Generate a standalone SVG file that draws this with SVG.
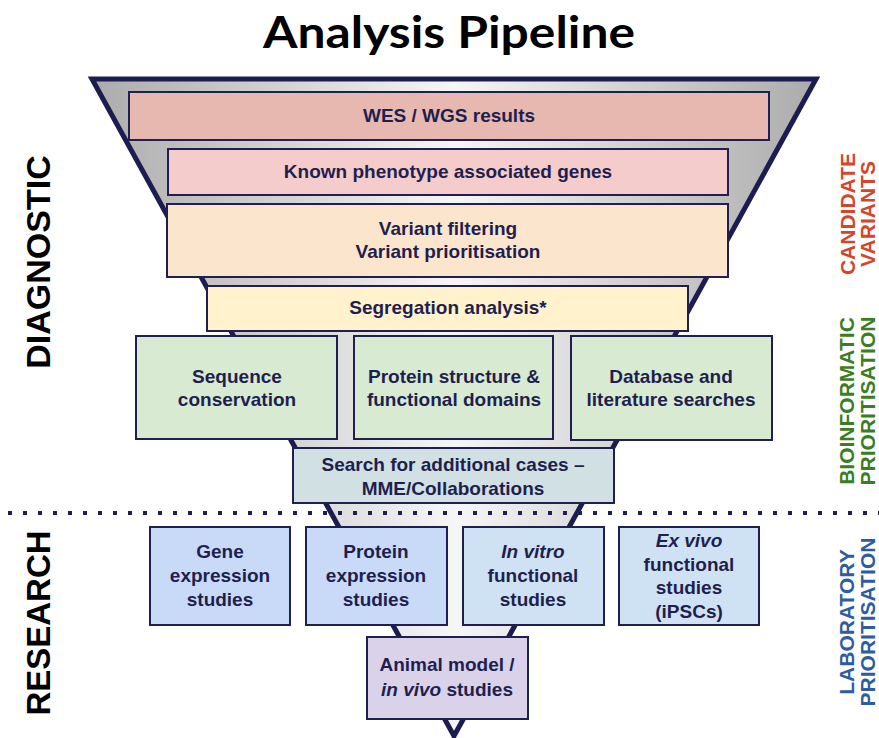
<svg xmlns="http://www.w3.org/2000/svg" width="879" height="738" viewBox="0 0 879 738">
<style>
.t{font-family:"Liberation Sans",Arial,sans-serif;font-weight:bold;font-size:19px;fill:#1F1F4F;text-anchor:middle}
.b{stroke:#1F1F50;stroke-width:2}
.side{font-family:"Liberation Sans",Arial,sans-serif;font-weight:bold;text-anchor:middle}
.i{font-style:italic}
</style>
<defs>
<linearGradient id="fg" x1="90" y1="0" x2="818" y2="0" gradientUnits="userSpaceOnUse">
<stop offset="0" stop-color="#ABABAB"/>
<stop offset="0.5" stop-color="#F6F6F6"/>
<stop offset="1" stop-color="#ABABAB"/>
</linearGradient>
</defs>
<rect width="879" height="738" fill="#FFFFFF"/>
<text x="449" y="48" font-family="Lato,'Open Sans',sans-serif" font-weight="bold" font-size="44" text-anchor="middle" textLength="372" lengthAdjust="spacingAndGlyphs" fill="#000">Analysis Pipeline</text>
<g id="funnel">
<polygon points="92,79 816,79 454,736" fill="url(#fg)" stroke="#1C1C50" stroke-width="5" stroke-linejoin="miter"/>
</g>
<g id="connectors">
<line x1="8" y1="513" x2="879" y2="513" stroke="#1F1F50" stroke-width="4" stroke-dasharray="4 11"/>
</g>
<g id="wes"><rect class="b" x="129" y="92" width="640" height="48" fill="#E6B8AF"/><text class="t" x="449" y="122">WES / WGS results</text></g>
<g id="known"><rect class="b" x="168" y="149" width="560" height="46" fill="#F4CCCC"/><text class="t" x="448" y="178">Known phenotype associated genes</text></g>
<g id="filter"><rect class="b" x="167" y="204" width="561" height="73" fill="#FCE5CD"/><text class="t" x="448" y="235">Variant filtering</text><text class="t" x="448" y="258">Variant prioritisation</text></g>
<g id="segregation"><rect class="b" x="207" y="286" width="481" height="45" fill="#FFF2CC"/><text class="t" x="448" y="314">Segregation analysis*</text></g>
<g id="sequence"><rect class="b" x="136" y="336" width="201" height="103" fill="#D9EAD3"/><text class="t" x="237" y="383">Sequence</text><text class="t" x="237" y="406">conservation</text></g>
<g id="protein"><rect class="b" x="354" y="336" width="199" height="103" fill="#D9EAD3"/><text class="t" x="454" y="383">Protein structure &amp;</text><text class="t" x="454" y="406">functional domains</text></g>
<g id="database"><rect class="b" x="571" y="336" width="201" height="104" fill="#D9EAD3"/><text class="t" x="671" y="383">Database and</text><text class="t" x="671" y="406">literature searches</text></g>
<g id="search"><rect class="b" x="293" y="448" width="321" height="55" fill="#D0E0E3"/><text class="t" x="453" y="471">Search for additional cases –</text><text class="t" x="453" y="495">MME/Collaborations</text></g>
<g id="gene"><rect class="b" x="150" y="527" width="140" height="98" fill="#C9DAF8"/><text class="t" x="220" y="558">Gene</text><text class="t" x="220" y="582">expression</text><text class="t" x="220" y="606">studies</text></g>
<g id="protexp"><rect class="b" x="306" y="527" width="141" height="98" fill="#C9DAF8"/><text class="t" x="376" y="558">Protein</text><text class="t" x="376" y="582">expression</text><text class="t" x="376" y="606">studies</text></g>
<g id="invitro"><rect class="b" x="463" y="527" width="141" height="98" fill="#CFE2F3"/><text class="t i" x="533" y="558">In vitro</text><text class="t" x="533" y="582">functional</text><text class="t" x="533" y="606">studies</text></g>
<g id="exvivo"><rect class="b" x="619" y="527" width="140" height="98" fill="#CFE2F3"/><text class="t i" x="689" y="547">Ex vivo</text><text class="t" x="689" y="571">functional</text><text class="t" x="689" y="594">studies</text><text class="t" x="689" y="618">(iPSCs)</text></g>
<g id="animal"><rect class="b" x="367" y="637" width="161" height="82" fill="#D9D2E9"/><text class="t" x="447" y="671">Animal model /</text><text class="t" x="447" y="696"><tspan class="i">in vivo</tspan> studies</text></g>
<g id="labels">
<text class="side" transform="translate(50,262) rotate(-90)" x="0" y="0" font-size="34" fill="#000">DIAGNOSTIC</text>
<text class="side" transform="translate(50,623) rotate(-90)" x="0" y="0" font-size="33" fill="#000">RESEARCH</text>
<g transform="translate(855,214) rotate(-90)" fill="#D5452B"><text class="side" x="0" y="0" font-size="21">CANDIDATE</text><text class="side" x="0" y="20" font-size="21">VARIANTS</text></g>
<g transform="translate(854,401) rotate(-90)" fill="#3B7D23"><text class="side" x="0" y="0" font-size="21">BIOINFORMATIC</text><text class="side" x="0" y="21" font-size="21">PRIORITISATION</text></g>
<g transform="translate(854,622) rotate(-90)" fill="#2E5C9E"><text class="side" x="0" y="0" font-size="21">LABORATORY</text><text class="side" x="0" y="21" font-size="21">PRIORITISATION</text></g>
</g>
</svg>
